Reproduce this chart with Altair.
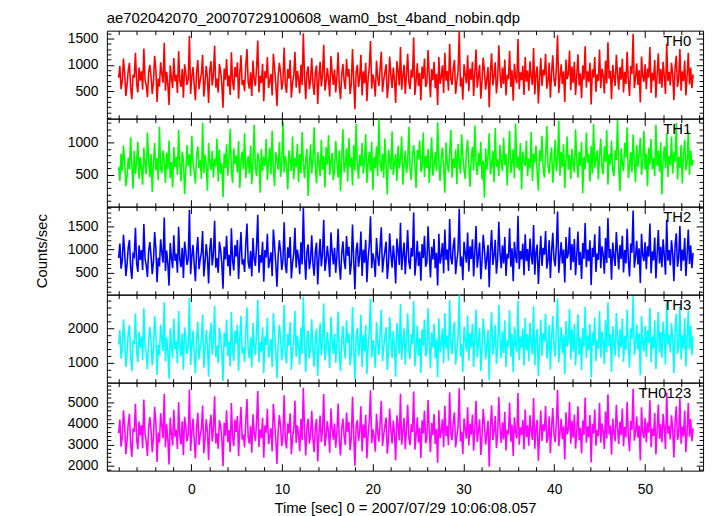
import altair as alt
import pandas as pd

TITLE = "ae702042070_20070729100608_wam0_bst_4band_nobin.qdp"
X_TITLE = "Time [sec] 0 = 2007/07/29 10:06:08.057"
Y_TITLE = "Counts/sec"
FONT = "Liberation Sans"

T_START = -8.0
T_STEP = 0.13215

X_DOMAIN = [-9.3, 56.4]
X_TICKS = [0, 10, 20, 30, 40, 50]
X_MINOR = [v for v in range(-8, 57, 2) if v % 10 != 0]

names = ["TH0", "TH1", "TH2", "TH3", "TH0123"]
colors = ["#ff0000", "#00ff00", "#0000ff", "#00ffff", "#ff00ff"]
y_domains = [[-18, 1648], [15, 1364], [30, 1925], [430, 2970], [1770, 5920]]
y_ticks = [[500, 1000, 1500], [500, 1000], [500, 1000, 1500], [1000, 2000], [2000, 3000, 4000, 5000]]
y_minor_step = [100, 100, 100, 200, 200]

th0 = [
    760, 980, 540, 690, 1120, 830, 410, 620, 900, 1040, 570, 350, 810, 760, 1230, 640, 480, 950, 700, 880,
    530, 1310, 720, 610, 390, 860, 1000, 780, 450, 680, 1170, 920, 300, 740, 590, 1050, 830, 660, 1420, 510,
    870, 640, 240, 990, 750, 560, 1130, 690, 810, 470, 1260, 700, 580, 920, 380, 1010, 840, 620, 730, 1550,
    450, 780, 960, 620, 330, 870, 1090, 540, 710, 830, 1190, 400, 660, 980, 760, 280, 900, 1070, 610, 820,
    1360, 570, 740, 480, 1020, 880, 650, 190, 930, 720, 1110, 590, 800, 430, 1240, 690, 520, 960, 770, 1050,
    360, 840, 1180, 620, 710, 500, 990, 1300, 670, 550, 860, 410, 1080, 730, 600, 940, 1460, 480, 790, 660,
    1020, 310, 880, 750, 1150, 560, 690, 830, 420, 1210, 950, 640, 220, 780, 1040, 860, 530, 700, 1330, 610,
    470, 920, 740, 1090, 380, 660, 810, 1250, 570, 890, 730, 460, 1000, 620, 1600, 780, 350, 850, 970, 540,
    700, 1130, 640, 430, 860, 990, 260, 760, 1060, 590, 820, 1380, 510, 680, 940, 730, 400, 1170, 850, 620,
    910, 480, 770, 1240, 600, 350, 830, 1020, 690, 540, 1110, 780, 920, 450, 640, 1300, 710, 160, 870, 1000,
    580, 760, 1190, 420, 880, 650, 1040, 310, 730, 960, 1450, 550, 820, 690, 400, 1080, 770, 600, 930, 1250,
    490, 710, 860, 1010, 370, 640, 1160, 800, 560, 950, 720, 280, 1070, 880, 610, 1340, 530, 790, 1000, 450,
    820, 1210, 670, 540, 910, 760, 1520, 430, 690, 1030, 600, 850, 330, 970, 740, 1120, 580, 660, 1280, 800,
    390, 920, 710, 1060, 560, 830, 240, 1150, 640, 770, 990, 470, 1230, 700, 880, 510, 1400, 750, 620, 940,
    1090, 450, 680, 870, 1640, 590, 760, 340, 1010, 820, 650, 1180, 500, 930, 720, 1060, 410, 840, 1290, 570,
    780, 1000, 360, 690, 1140, 880, 530, 740, 960, 200, 870, 1220, 610, 790, 1050, 460, 700, 1370, 830, 560,
    950, 640, 1100, 420, 810, 730, 1260, 580, 900, 320, 1020, 760, 650, 1490, 540, 860, 710, 980, 430, 1150,
    680, 890, 510, 1070, 770, 620, 1320, 440, 830, 970, 270, 740, 1130, 600, 910, 800, 1210, 550, 690, 1040,
    380, 850, 1180, 720, 590, 940, 1560, 470, 760, 1010, 640, 880, 300, 1100, 730, 820, 1270, 520, 970, 660,
    1060, 430, 790, 1200, 610, 840, 370, 990, 720, 1350, 570, 880, 680, 1040, 250, 910, 760, 1150, 490, 820,
    700, 1290, 560, 930, 810, 460, 1080, 650, 1430, 740, 890, 350, 1000, 770, 600, 1190, 840, 530, 960, 720,
    1120, 480, 870, 640, 1250, 710, 410, 980, 830, 1590, 560, 750, 1030, 620, 900, 290, 1160, 790, 680, 1010,
    540, 930, 760, 1340, 470, 850, 700, 1090, 380, 810, 1220, 640, 920, 570, 1060, 780, 450, 1400, 690, 870,
    610, 1040, 820, 330, 960, 1170, 580, 740, 1300, 510, 880, 690, 1080, 420, 790, 1230, 630, 950, 560, 820,
]

th1 = [
    620, 410, 830, 560, 950, 700, 330, 480, 760, 590, 1080, 640, 290, 870, 520, 690, 1010, 440, 780, 600,
    350, 920, 660, 510, 1150, 730, 470, 820, 240, 680, 990, 570, 760, 420, 1240, 610, 530, 880, 710, 380,
    840, 590, 1030, 450, 700, 310, 930, 620, 780, 500, 1190, 660, 400, 860, 730, 210, 570, 960, 640, 820,
    480, 1100, 690, 550, 370, 800, 940, 600, 720, 440, 1300, 530, 810, 650, 260, 990, 700, 580, 870, 460,
    750, 630, 1060, 400, 890, 520, 680, 160, 830, 610, 970, 490, 740, 1210, 560, 380, 910, 670, 800, 540,
    1020, 300, 720, 860, 590, 1140, 450, 660, 790, 520, 950, 360, 700, 1270, 610, 480, 840, 730, 230, 900,
    560, 780, 640, 1050, 420, 690, 920, 510, 1180, 600, 330, 850, 740, 580, 1000, 470, 670, 1320, 540, 790,
    650, 280, 880, 710, 560, 1090, 430, 760, 620, 980, 390, 820, 530, 1160, 690, 450, 730, 900, 180, 640,
    970, 520, 740, 1230, 610, 370, 850, 690, 480, 1040, 580, 790, 310, 930, 660, 1110, 500, 710, 840, 420,
    590, 1020, 700, 460, 880, 250, 760, 1200, 540, 650, 910, 400, 1070, 620, 770, 340, 960, 570, 1280, 690,
    440, 810, 630, 990, 520, 720, 1130, 380, 670, 860, 560, 1010, 270, 780, 610, 940, 480, 1350, 700, 550,
    830, 460, 1060, 640, 200, 890, 730, 580, 1170, 500, 680, 820, 410, 950, 600, 750, 1090, 350, 660, 870,
    530, 700, 1240, 590, 420, 810, 960, 660, 300, 880, 740, 1030, 550, 630, 1150, 470, 790, 610, 900, 380,
    720, 1080, 490, 640, 850, 560, 1310, 690, 410, 770, 920, 600, 230, 1000, 680, 540, 830, 1190, 460, 750,
    610, 890, 360, 980, 700, 520, 1120, 790, 580, 440, 860, 1040, 650, 320, 760, 930, 570, 1260, 680, 500,
    840, 640, 1010, 430, 720, 150, 910, 580, 790, 1140, 510, 670, 870, 390, 1220, 620, 740, 480, 960, 700,
    560, 1070, 650, 820, 340, 760, 1180, 530, 690, 900, 450, 1290, 610, 780, 570, 990, 280, 860, 720, 640,
    1030, 480, 750, 600, 1160, 410, 830, 690, 950, 540, 260, 880, 710, 1100, 590, 460, 800, 1250, 650, 520,
    770, 920, 380, 680, 1040, 560, 730, 1330, 490, 850, 620, 970, 300, 740, 1090, 580, 810, 440, 900, 660,
    540, 1200, 710, 460, 860, 640, 1010, 220, 780, 590, 1150, 690, 830, 400, 950, 520, 1280, 610, 740, 880,
    430, 790, 1060, 620, 510, 940, 700, 1190, 350, 820, 660, 1030, 570, 480, 880, 730, 1340, 600, 250, 910,
    680, 560, 990, 770, 1230, 450, 640, 850, 540, 1120, 710, 390, 960, 620, 800, 1070, 500, 700, 1180, 580,
    830, 330, 920, 660, 1050, 590, 760, 480, 1270, 640, 870, 550, 1000, 200, 730, 940, 610, 1140, 470, 790,
    650, 1090, 520, 850, 700, 1300, 430, 780, 610, 960, 370, 820, 1040, 570, 690, 1170, 500, 880, 640, 730,
]

th2 = [
    820, 1130, 590, 760, 1320, 940, 430, 680, 1050, 1210, 610, 370, 900, 850, 1470, 700, 520, 1090, 780, 990,
    560, 1550, 800, 660, 410, 960, 1160, 870, 470, 740, 1380, 1030, 300, 820, 640, 1220, 930, 720, 1690, 540,
    980, 700, 220, 1140, 830, 600, 1310, 760, 910, 500, 1490, 780, 620, 1040, 390, 1170, 950, 670, 800, 1860,
    470, 860, 1100, 680, 320, 970, 1270, 580, 790, 930, 1400, 420, 720, 1120, 840, 270, 1010, 1250, 660, 910,
    1620, 610, 820, 500, 1170, 990, 710, 160, 1060, 790, 1300, 640, 890, 440, 1460, 760, 550, 1100, 850, 1210,
    370, 940, 1380, 680, 790, 520, 1130, 1560, 730, 590, 970, 420, 1250, 810, 650, 1080, 1750, 500, 880, 720,
    1170, 310, 990, 830, 1340, 600, 760, 940, 430, 1430, 1090, 700, 200, 860, 1200, 970, 560, 780, 1590, 660,
    490, 1050, 820, 1270, 380, 720, 910, 1470, 610, 1000, 810, 470, 1160, 680, 1900, 870, 350, 960, 1110, 580,
    770, 1310, 700, 440, 970, 1150, 250, 840, 1230, 640, 920, 1640, 540, 750, 1080, 810, 410, 1370, 950, 680,
    1040, 500, 860, 1450, 660, 350, 930, 1180, 760, 580, 1290, 870, 1060, 460, 700, 1540, 790, 140, 980, 1150,
    630, 840, 1390, 430, 1000, 720, 1210, 300, 810, 1100, 1720, 600, 920, 760, 410, 1250, 860, 650, 1070, 1480,
    510, 790, 970, 1170, 370, 700, 1350, 900, 610, 1090, 800, 270, 1240, 990, 670, 1580, 560, 880, 1150, 470,
    920, 1420, 740, 580, 1040, 850, 1800, 440, 760, 1190, 650, 960, 330, 1120, 820, 1300, 630, 720, 1500, 900,
    400, 1060, 790, 1230, 600, 930, 230, 1340, 700, 860, 1140, 490, 1430, 780, 1000, 540, 1660, 830, 680, 1080,
    1260, 470, 750, 980, 1880, 640, 850, 340, 1170, 920, 720, 1370, 530, 1070, 800, 1220, 420, 940, 1510, 610,
    870, 1150, 360, 760, 1320, 1000, 570, 820, 1100, 190, 980, 1420, 670, 880, 1210, 480, 780, 1600, 930, 600,
    1090, 700, 1270, 430, 910, 810, 1460, 630, 1030, 320, 1170, 850, 710, 1730, 580, 970, 790, 1130, 450, 1330,
    750, 1010, 540, 1240, 860, 680, 1530, 460, 940, 1110, 260, 820, 1300, 650, 1040, 890, 1400, 590, 760, 1200,
    390, 960, 1360, 800, 640, 1080, 1820, 500, 850, 1160, 700, 1000, 290, 1270, 810, 920, 1480, 560, 1120, 730,
    1230, 450, 880, 1390, 670, 950, 370, 1140, 800, 1570, 620, 1000, 750, 1200, 240, 1040, 840, 1330, 520, 920,
    780, 1500, 600, 1070, 900, 480, 1250, 710, 1680, 820, 1010, 350, 1150, 860, 650, 1380, 950, 570, 1100, 800,
    1300, 510, 990, 700, 1450, 790, 420, 1130, 930, 1840, 610, 840, 1190, 680, 1030, 280, 1340, 880, 750, 1160,
    580, 1070, 850, 1560, 490, 960, 770, 1260, 380, 900, 1420, 700, 1060, 620, 1220, 870, 460, 1640, 760, 990,
    660, 1200, 910, 320, 1100, 1350, 630, 820, 1510, 540, 1000, 760, 1250, 430, 880, 1430, 690, 1090, 600, 930,
]

th3 = [
    1530, 1950, 1120, 1380, 2250, 1700, 880, 1290, 1860, 2100, 1190, 760, 1650, 1540, 2430, 1310, 1020, 1900, 1440, 1760,
    1080, 2580, 1480, 1260, 820, 1700, 2040, 1590, 930, 1390, 2360, 1820, 650, 1520, 1220, 2110, 1670, 1340, 2750, 1050,
    1740, 1320, 540, 1990, 1500, 1130, 2280, 1400, 1620, 980, 2500, 1440, 1180, 1850, 800, 2030, 1700, 1250, 1480, 2880,
    940, 1560, 1930, 1270, 690, 1720, 2190, 1100, 1450, 1660, 2400, 860, 1330, 1950, 1540, 600, 1780, 2150, 1240, 1640,
    2650, 1160, 1500, 990, 2020, 1750, 1320, 480, 1870, 1460, 2250, 1200, 1610, 900, 2470, 1400, 1060, 1930, 1560, 2100,
    760, 1680, 2360, 1270, 1450, 1020, 1960, 2600, 1350, 1130, 1740, 870, 2150, 1500, 1220, 1880, 2820, 1010, 1590, 1330,
    2030, 700, 1760, 1520, 2300, 1150, 1400, 1690, 880, 2440, 1900, 1300, 560, 1560, 2100, 1730, 1070, 1430, 2670, 1240,
    980, 1830, 1500, 2180, 800, 1340, 1640, 2500, 1170, 1780, 1480, 950, 2020, 1260, 2900, 1580, 740, 1730, 1940, 1130,
    1420, 2260, 1300, 890, 1740, 1990, 620, 1530, 2140, 1210, 1650, 2720, 1070, 1390, 1890, 1480, 850, 2330, 1700, 1260,
    1830, 1000, 1560, 2480, 1230, 760, 1680, 2060, 1400, 1120, 2230, 1580, 1860, 930, 1300, 2610, 1440, 520, 1760, 2010,
    1190, 1530, 2390, 880, 1800, 1340, 2100, 680, 1480, 1930, 2850, 1150, 1660, 1390, 860, 2180, 1560, 1220, 1880, 2530,
    1040, 1440, 1740, 2030, 790, 1310, 2320, 1620, 1150, 1920, 1460, 600, 2150, 1760, 1260, 2700, 1090, 1590, 2000, 950,
    1660, 2430, 1350, 1110, 1840, 1550, 2780, 900, 1400, 2070, 1200, 1720, 710, 1960, 1500, 2250, 1180, 1330, 2580, 1620,
    840, 1880, 1440, 2130, 1130, 1690, 580, 2290, 1300, 1560, 1990, 990, 2440, 1420, 1790, 1060, 2810, 1520, 1250, 1920,
    2190, 950, 1370, 1760, 2950, 1190, 1540, 740, 2040, 1660, 1330, 2370, 1060, 1860, 1450, 2120, 880, 1700, 2540, 1160,
    1580, 2010, 770, 1390, 2290, 1810, 1100, 1490, 1960, 500, 1760, 2460, 1240, 1590, 2100, 970, 1420, 2680, 1680, 1130,
    1910, 1280, 2220, 880, 1650, 1470, 2520, 1180, 1840, 720, 2050, 1540, 1300, 2790, 1080, 1750, 1440, 1990, 920, 2300,
    1360, 1820, 1050, 2160, 1560, 1240, 2640, 930, 1700, 1980, 620, 1490, 2250, 1200, 1870, 1610, 2420, 1120, 1380, 2090,
    810, 1740, 2350, 1450, 1180, 1940, 2860, 1010, 1540, 2030, 1290, 1810, 680, 2210, 1470, 1660, 2560, 1100, 1990, 1320,
    2130, 920, 1600, 2400, 1230, 1730, 790, 2000, 1460, 2620, 1140, 1790, 1360, 2120, 570, 1880, 1520, 2310, 1050, 1670,
    1410, 2500, 1160, 1910, 1640, 960, 2230, 1300, 2740, 1490, 1830, 740, 2060, 1560, 1210, 2440, 1720, 1150, 1970, 1450,
    2280, 1030, 1780, 1380, 2540, 1450, 870, 2000, 1690, 2920, 1220, 1520, 2110, 1380, 1860, 640, 2350, 1600, 1330, 2070,
    1170, 1940, 1570, 2590, 1010, 1750, 1420, 2230, 820, 1640, 2470, 1290, 1900, 1150, 2180, 1760, 950, 2750, 1530, 1810,
    1300, 2150, 1700, 700, 1990, 2420, 1260, 1500, 2620, 1100, 1800, 1410, 2290, 900, 1600, 2510, 1390, 2080, 1220, 1760,
]

th0123 = [
    3540, 4180, 2900, 3360, 4620, 3850, 2550, 3180, 4010, 4450, 3010, 2420, 3760, 3600, 4920, 3250, 2780, 4090, 3430, 3920,
    2830, 5120, 3480, 3150, 2460, 3800, 4300, 3690, 2640, 3350, 4780, 4050, 2180, 3560, 3090, 4480, 3870, 3300, 5400, 2870,
    3960, 3240, 2060, 4260, 3520, 2960, 4640, 3370, 3700, 2790, 5000, 3400, 3000, 4100, 2500, 4310, 3850, 3150, 3470, 5600,
    2700, 3620, 4230, 3200, 2350, 3800, 4500, 2980, 3450, 3740, 4840, 2590, 3250, 4190, 3630, 2270, 3920, 4400, 3140, 3760,
    5280, 3050, 3530, 2800, 4150, 3850, 3320, 1980, 4030, 3420, 4620, 3110, 3680, 2640, 4960, 3380, 2930, 4180, 3600, 4350,
    2450, 3790, 4770, 3230, 3470, 2860, 4130, 5150, 3330, 3040, 3880, 2620, 4430, 3580, 3170, 4050, 5520, 2890, 3710, 3300,
    4260, 2380, 3900, 3560, 4690, 3020, 3390, 3770, 2680, 4910, 4110, 3250, 2090, 3620, 4390, 3870, 2930, 3400, 5320, 3160,
    2820, 4000, 3530, 4480, 2540, 3300, 3740, 5060, 3070, 3910, 3460, 2690, 4200, 3210, 5680, 3650, 2480, 3830, 4220, 3040,
    3420, 4590, 3260, 2640, 3850, 4200, 2200, 3530, 4370, 3120, 3720, 5380, 2920, 3370, 4110, 3570, 2620, 4700, 3780, 3230,
    3990, 2850, 3580, 4940, 3180, 2490, 3770, 4230, 3390, 2970, 4510, 3610, 4060, 2740, 3300, 5250, 3450, 2000, 3860, 4150,
    3160, 3640, 4810, 2680, 3950, 3310, 4400, 2350, 3480, 4110, 5560, 3060, 3720, 3380, 2660, 4450, 3610, 3140, 4040, 5050,
    2930, 3470, 3880, 4280, 2570, 3280, 4700, 3690, 3050, 4130, 3510, 2260, 4380, 3900, 3200, 5400, 2990, 3630, 4260, 2780,
    3700, 4880, 3330, 2970, 3960, 3590, 5500, 2760, 3420, 4290, 3100, 3790, 2370, 4140, 3520, 4600, 3060, 3300, 5100, 3660,
    2640, 4020, 3450, 4440, 3030, 3730, 2140, 4620, 3290, 3620, 4190, 2880, 4830, 3410, 3880, 2970, 5460, 3550, 3200, 4080,
    4520, 2860, 3380, 3870, 5650, 3150, 3600, 2550, 4240, 3710, 3280, 4760, 2960, 3980, 3470, 4420, 2710, 3750, 5060, 3120,
    3660, 4190, 2510, 3410, 4670, 3950, 3000, 3530, 4130, 1960, 3830, 4850, 3220, 3650, 4350, 2830, 3440, 5240, 3760, 3080,
    4050, 3240, 4530, 2720, 3700, 3480, 4980, 3130, 3940, 2460, 4290, 3570, 3290, 5430, 2990, 3810, 3460, 4160, 2770, 4650,
    3350, 3910, 2950, 4380, 3620, 3220, 5190, 2800, 3730, 4160, 2240, 3470, 4600, 3170, 3960, 3630, 4820, 3080, 3380, 4320,
    2600, 3790, 4720, 3460, 3110, 4050, 5580, 2920, 3560, 4220, 3260, 3860, 2300, 4520, 3480, 3700, 5000, 3040, 4130, 3320,
    4410, 2810, 3600, 4800, 3200, 3790, 2580, 4130, 3450, 5210, 3090, 3860, 3340, 4390, 2150, 3960, 3520, 4650, 2950, 3690,
    3400, 4970, 3090, 4000, 3650, 2790, 4560, 3270, 5370, 3480, 3900, 2520, 4230, 3560, 3160, 4880, 3760, 3030, 4080, 3440,
    4700, 2920, 3830, 3350, 5020, 3450, 2690, 4110, 3690, 5630, 3180, 3520, 4320, 3330, 3900, 2250, 4760, 3600, 3300, 4250,
    3100, 4040, 3560, 5100, 2870, 3750, 3410, 4490, 2530, 3630, 4890, 3270, 3960, 3110, 4440, 3800, 2790, 5440, 3520, 3880,
    3240, 4380, 3730, 2390, 4080, 4800, 3220, 3490, 5180, 3040, 3850, 3390, 4610, 2640, 3600, 4960, 3370, 4200, 3160, 3770,
]

series = [th0, th1, th2, th3, th0123]

W = 603
H = 89
MAJ = 7
MIN = 4


def axis(orient, values, size, labels=False, title=None, fmt=None, label_pad=0, title_pad=0):
    kw = dict(
        orient=orient, values=values, labels=labels, grid=False, domain=False,
        tickSize=size, offset=-size, tickColor="black", tickWidth=1, zindex=2,
        labelFontSize=14, labelFont=FONT, labelColor="black", labelPadding=label_pad,
        titleFontSize=15, titleFont=FONT, titleFontWeight="normal", titleColor="black",
        titlePadding=title_pad, title=title,
    )
    if fmt:
        kw["format"] = fmt
    return alt.Axis(**kw)


def panel(i):
    vals = series[i]
    times = [round(T_START + k * T_STEP, 4) for k in range(len(vals))]
    df = pd.DataFrame({"t": times, "v": vals})
    bottom = i == len(series) - 1
    lo, hi = y_domains[i]
    step = y_minor_step[i]
    y_minor = [v for v in range(0, 6001, step) if lo < v < hi and v not in y_ticks[i]]
    xs = alt.Scale(domain=X_DOMAIN, nice=False, zero=False)
    ys = alt.Scale(domain=y_domains[i], nice=False, zero=False)

    line = alt.Chart(df).mark_line(color=colors[i], strokeWidth=1.6, clip=True).encode(
        x=alt.X("t:Q", scale=xs, axis=axis("bottom", X_TICKS, MAJ, labels=bottom,
                                           title=X_TITLE if bottom else None,
                                           label_pad=12, title_pad=4)),
        y=alt.Y("v:Q", scale=ys, axis=axis("left", y_ticks[i], MAJ, labels=True, fmt="d",
                                           title=Y_TITLE if i == 2 else None,
                                           label_pad=9, title_pad=18)),
    )
    base = alt.Chart(df).mark_line(opacity=0)
    top_right = base.encode(
        x=alt.X("t:Q", scale=xs, axis=axis("top", X_TICKS, MAJ)),
        y=alt.Y("v:Q", scale=ys, axis=axis("right", y_ticks[i], MAJ)),
    )
    minor_lb = base.encode(
        x=alt.X("t:Q", scale=xs, axis=axis("bottom", X_MINOR, MIN)),
        y=alt.Y("v:Q", scale=ys, axis=axis("left", y_minor, MIN)),
    )
    minor_tr = base.encode(
        x=alt.X("t:Q", scale=xs, axis=axis("top", X_MINOR, MIN)),
        y=alt.Y("v:Q", scale=ys, axis=axis("right", y_minor, MIN)),
    )
    label = alt.Chart(pd.DataFrame({"n": [names[i]]})).mark_text(
        align="right", baseline="top", fontSize=15, font=FONT, color="black"
    ).encode(x=alt.value(W - 12), y=alt.value(4), text="n:N")
    return (
        alt.layer(line, top_right, minor_lb, minor_tr, label)
        .resolve_axis(x="independent", y="independent")
        .properties(width=W, height=H)
    )


chart = alt.vconcat(*[panel(i) for i in range(5)], spacing=0, bounds="flush").properties(
    title=alt.TitleParams(
        TITLE, anchor="start", fontSize=15, font=FONT, fontWeight="normal", color="black",
        offset=4, frame="group"
    ),
    padding={"left": 26, "top": 0, "right": 5, "bottom": 0},
).configure_view(stroke="black", strokeWidth=1).configure_concat(spacing=0)

chart.save("out.html", embed_options={"renderer": "svg", "actions": False})
